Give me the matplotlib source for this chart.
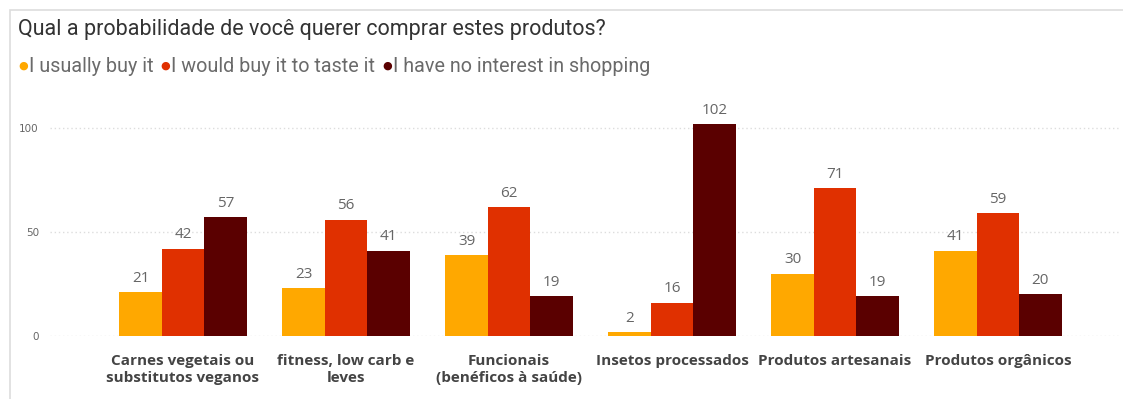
import matplotlib
matplotlib.use("Agg")
import matplotlib.pyplot as plt
from matplotlib.patches import Rectangle
import numpy as np

categories = ["Carnes vegetais ou\nsubstitutos veganos", "fitness, low carb e\nleves",
              "Funcionais\n(benéficos à saúde)", "Insetos processados",
              "Produtos artesanais", "Produtos orgânicos"]
series_names = ["I usually buy it", "I would buy it to taste it", "I have no interest in shopping"]
usually = [21, 23, 39, 2, 30, 41]
would_taste = [42, 56, 62, 16, 71, 59]
no_interest = [57, 41, 19, 102, 19, 20]
yticks = [0, 50, 100]
colors = ["#FFA800", "#E03000", "#5A0000"]

W, H = 1123, 399
fig = plt.figure(figsize=(W / 100, H / 100), dpi=100)
fig.patch.set_facecolor("white")

# card border
fig.add_artist(Rectangle((10 / W, -0.05), 1.2, (H - 10) / H + 0.05, transform=fig.transFigure,
                         fill=False, edgecolor="#DDDDDD", linewidth=1.2))

fig.text(18 / W, 1 - 30 / H, "Qual a probabilidade de você querer comprar estes produtos?",
         fontsize=15.5, color="#333333", va="center", ha="left", family="Roboto")

# legend, chained inline
renderer = fig.canvas.get_renderer()
x = 18
for i, name in enumerate(series_names):
    d = fig.text(x / W, 1 - 66 / H, "●", fontsize=8, color=colors[i], va="center", ha="left",
                 family="DejaVu Sans")
    x = d.get_window_extent(renderer).x1 + 1
    t = fig.text(x / W, 1 - 66 / H, name, fontsize=14.2, color="#6A6A6A", va="center",
                 ha="left", family="Roboto")
    x = t.get_window_extent(renderer).x1 + 7

ax_left, ax_right = 50, 1120
y0_px, ppu = 336, 2.08
ymax = 108
ax = fig.add_axes([ax_left / W, (H - y0_px) / H, (ax_right - ax_left) / W, ymax * ppu / H])
ax.set_xlim(-(183 - ax_left) / 163, (ax_right - 183) / 163)
ax.set_ylim(0, ymax)

xpos = np.arange(len(categories))
bw = 0.26
for i, vals in enumerate([usually, would_taste, no_interest]):
    bars = ax.bar(xpos + (i - 1) * bw, vals, width=bw, color=colors[i], zorder=3)
    for b, v in zip(bars, vals):
        ax.text(b.get_x() + b.get_width() / 2, v + 3, str(v), ha="center", va="bottom",
                fontsize=11, color="#666666", family="Open Sans")

for s in ax.spines.values():
    s.set_visible(False)
ax.set_yticks(yticks)
ax.set_yticklabels([str(t) for t in yticks], fontsize=7.5, color="#666666")
ax.tick_params(axis="y", length=0, pad=8)
ax.grid(axis="y", color="#DDDDDD", linestyle=(0, (1, 2)), linewidth=1, zorder=0)
ax.set_xticks(xpos)
ax.set_xticklabels(categories, fontsize=11, fontweight="bold", color="#444444",
                   family="Open Sans", linespacing=1.25, va="top")
ax.tick_params(axis="x", length=0, pad=13)

fig.savefig("out.png", dpi=100, facecolor="white")
